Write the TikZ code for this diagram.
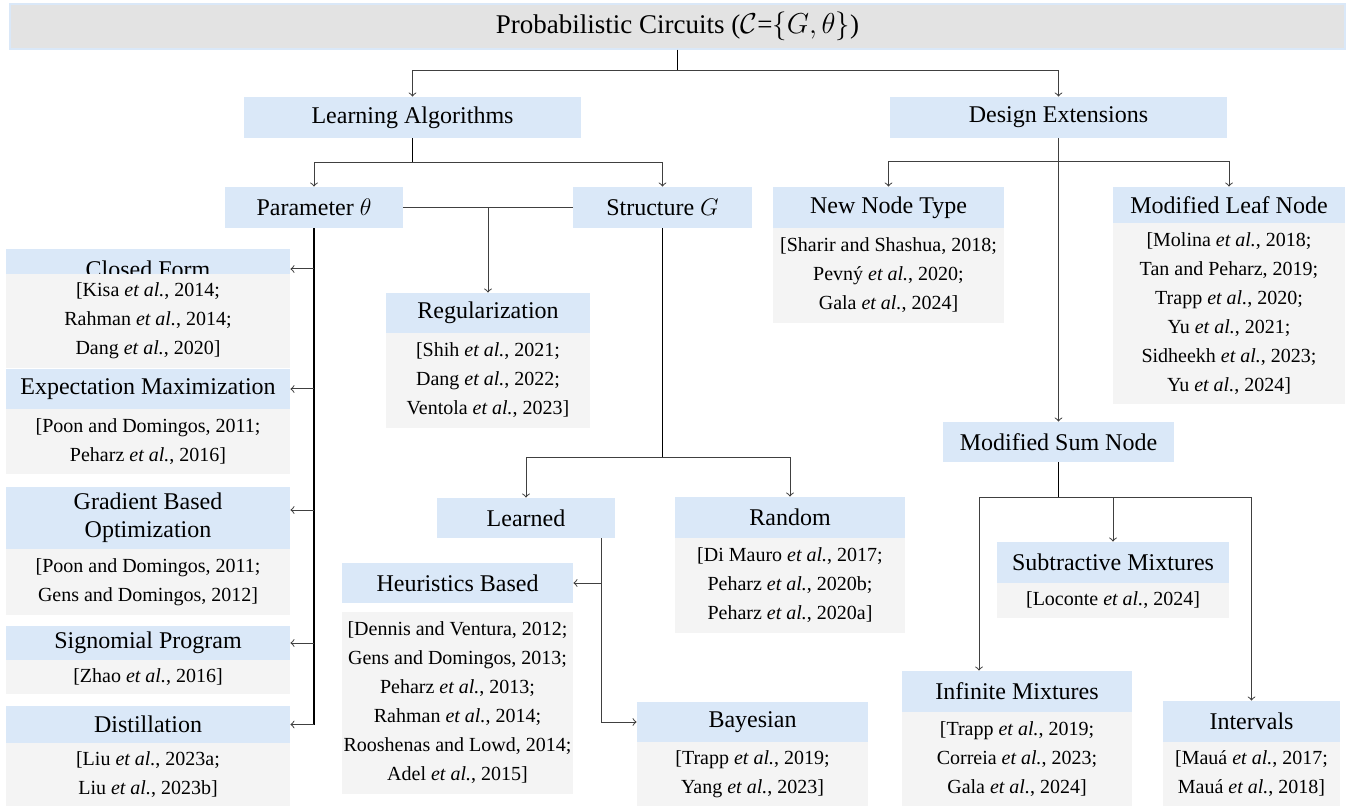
\documentclass[tikz,border=0pt]{standalone}
\usepackage{fontspec}
\setmainfont{Liberation Serif}
\definecolor{hdrblue}{HTML}{DAE8F8}
\definecolor{refgray}{HTML}{F4F4F4}
\definecolor{titlegray}{HTML}{E3E3E3}
\tikzset{
  wh/.style 2 args={minimum width=#1*0.5pt, minimum height=#2*0.5pt},
  hdr/.style={fill=hdrblue, inner sep=0pt, align=center, font=\fontsize{12}{14}\selectfont},
  refs/.style={fill=refgray, inner sep=0pt, align=center, font=\fontsize{10}{14.5}\selectfont},
  trunk/.style={draw=black, line width=0.7pt},
  branch/.style={draw=black!75, line width=0.5pt, ->},
}
\newcommand{\etal}{\textit{et al.}}
\begin{document}
\begin{tikzpicture}[x=0.5pt, y=-0.5pt]
    \useasboundingbox (0,0) rectangle (1348,806);
    \node[fill=titlegray, draw=hdrblue, line width=0.6pt, inner sep=0pt, wh={1335}{45}, font=\fontsize{13.5}{16}\selectfont] (title) at (677.5,26.5) {Probabilistic Circuits ($\mathcal{C}$=$\{G,\theta\}$)};
    \node[hdr, wh={337}{41}] (learn) at (412.5,117.5) {Learning Algorithms};
    \node[hdr, wh={337}{41}] (design) at (1058.5,117.5) {Design Extensions};
    \node[hdr, wh={178}{41}] (param) at (314,207.5) {Parameter $\theta$};
    \node[hdr, wh={179}{41}] (struct) at (662.5,207.5) {Structure $G$};
    % parameter learning
    \node[hdr, wh={284}{40}] (closed) at (148,269) {Closed Form};
    \node[refs, wh={284}{94}] (closedcite) at (148,321) {[Kisa \etal, 2014;\\Rahman \etal, 2014;\\Dang \etal, 2020]};
    \node[hdr, wh={284}{40}] (em) at (148,389) {Expectation Maximization};
    \node[refs, wh={284}{65}] (emcite) at (148,441.5) {[Poon and Domingos, 2011;\\Peharz \etal, 2016]};
    \node[hdr, wh={284}{62}] (grad) at (148,518) {Gradient Based\\Optimization};
    \node[refs, wh={284}{66}] (gradcite) at (148,582) {[Poon and Domingos, 2011;\\Gens and Domingos, 2012]};
    \node[hdr, wh={284}{34}] (signo) at (148,643) {Signomial Program};
    \node[refs, wh={284}{34}] (signocite) at (148,677) {[Zhao \etal, 2016]};
    \node[hdr, wh={284}{37}] (distil) at (148,724.5) {Distillation};
    \node[refs, wh={284}{63}] (distilcite) at (148,774.5) {[Liu \etal, 2023a;\\Liu \etal, 2023b]};
    % structure learning
    \node[hdr, wh={204}{40}] (reg) at (488,313) {Regularization};
    \node[refs, wh={204}{95}] (regcite) at (488,380.5) {[Shih \etal, 2021;\\Dang \etal, 2022;\\Ventola \etal, 2023]};
    \node[hdr, wh={178}{40}] (learned) at (526,518) {Learned};
    \node[hdr, wh={230}{41}] (random) at (790,517.5) {Random};
    \node[refs, wh={230}{95}] (randomcite) at (790,585.5) {[Di Mauro \etal, 2017;\\Peharz \etal, 2020b;\\Peharz \etal, 2020a]};
    \node[hdr, wh={231}{40}] (heur) at (457.5,583) {Heuristics Based};
    \node[refs, wh={231}{182}] (heurcite) at (457.5,703) {[Dennis and Ventura, 2012;\\Gens and Domingos, 2013;\\Peharz \etal, 2013;\\Rahman \etal, 2014;\\Rooshenas and Lowd, 2014;\\Adel \etal, 2015]};
    \node[hdr, wh={231}{40}] (bayes) at (752.5,722) {Bayesian};
    \node[refs, wh={231}{64}] (bayescite) at (752.5,774) {[Trapp \etal, 2019;\\Yang \etal, 2023]};
    % design extensions
    \node[hdr, wh={231}{41}] (newtype) at (888.5,207.5) {New Node Type};
    \node[refs, wh={231}{95}] (newtypecite) at (888.5,275.5) {[Sharir and Shashua, 2018;\\Pevný \etal, 2020;\\Gala \etal, 2024]};
    \node[hdr, wh={232}{36}] (leaf) at (1229,205) {Modified Leaf Node};
    \node[refs, wh={232}{181}] (leafcite) at (1229,313.5) {[Molina \etal, 2018;\\Tan and Peharz, 2019;\\Trapp \etal, 2020;\\Yu \etal, 2021;\\Sidheekh \etal, 2023;\\Yu \etal, 2024]};
    \node[hdr, wh={231}{40}] (sum) at (1058.5,442) {Modified Sum Node};
    \node[hdr, wh={232}{41}] (sub) at (1113,562.5) {Subtractive Mixtures};
    \node[refs, wh={232}{35}] (subcite) at (1113,600.5) {[Loconte \etal, 2024]};
    \node[hdr, wh={230}{41}] (inf) at (1017,691.5) {Infinite Mixtures};
    \node[refs, wh={230}{94}] (infcite) at (1017,759) {[Trapp \etal, 2019;\\Correia \etal, 2023;\\Gala \etal, 2024]};
    \node[hdr, wh={177}{41}] (intv) at (1251.5,721.5) {Intervals};
    \node[refs, wh={177}{64}] (intvcite) at (1251.5,774) {[Mauá \etal, 2017;\\Mauá \etal, 2018]};
    % connectors
    \coordinate (j0) at (title.south |- 0,71);
    \draw[trunk] (title.south) -- (j0);
    \draw[branch] (j0) -| (learn.north);
    \draw[branch] (j0) -| (design.north);
    \coordinate (j1) at (learn.south |- 0,163);
    \draw[trunk] (learn.south) -- (j1);
    \draw[branch] (j1) -| (param.north);
    \draw[branch] (j1) -| (struct.north);
    \draw[branch, -] (param.east) -- (struct.west);
    \draw[branch] (reg.north |- param.east) -- (reg.north);
    \draw[trunk] (param.south) -- (param.south |- distil.east);
    \foreach \n in {closed,em,signo,distil}
        \draw[branch] (param.south |- \n.east) -- (\n.east);
    \draw[branch] (param.south |- 0,510) -- ([yshift=4pt]grad.east);
    \coordinate (j2) at (struct.south |- 0,458);
    \draw[trunk] (struct.south) -- (j2);
    \draw[branch] (j2) -| (learned.north);
    \draw[branch] (j2) -| (random.north);
    \coordinate (lt) at ([xshift=37.5pt]learned.south);
    \draw[branch] (lt) |- (bayes.west);
    \draw[branch] (lt |- heur.east) -- (heur.east);
    \coordinate (j3) at (design.south |- 0,162);
    \draw[branch] (design.south) -- (sum.north);
    \draw[branch] (j3) -| (newtype.north);
    \draw[branch] (j3) -| (leaf.north);
    \coordinate (j4) at (sum.south |- 0,498);
    \draw[trunk] (sum.south) -- (j4);
    \draw[branch] (j4) -| ([xshift=-19pt]inf.north);
    \draw[branch] (j4) -| (sub.north);
    \draw[branch] (j4) -| (intv.north);
\end{tikzpicture}
\end{document}
